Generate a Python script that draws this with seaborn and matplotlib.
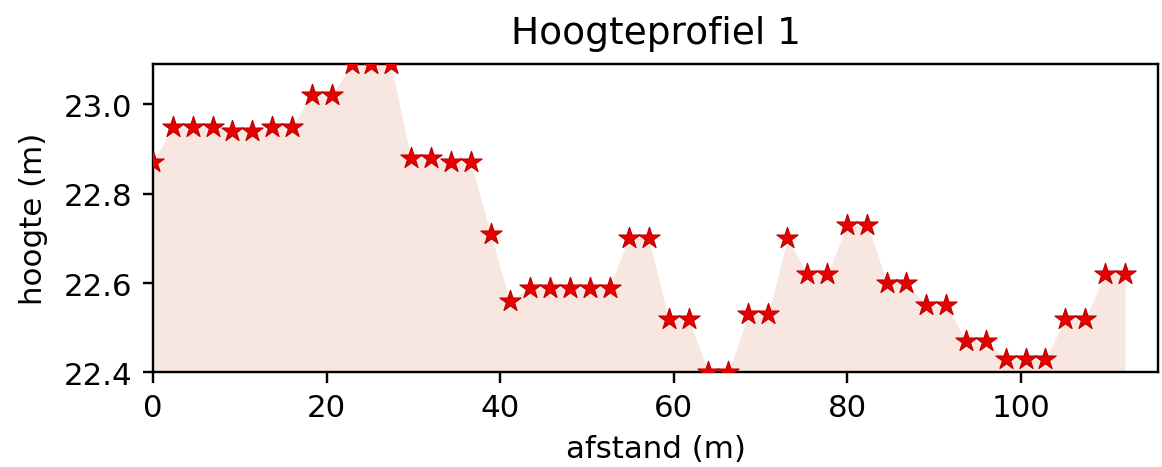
import numpy as np
import pandas as pd
import matplotlib
matplotlib.use("Agg")
import matplotlib.pyplot as plt
import seaborn as sns

# distance along the profile (m)
afstand = [0.0, 2.3, 4.6, 6.9, 9.1, 11.4, 13.7, 16.0, 18.3, 20.6,
           22.9, 25.1, 27.4, 29.7, 32.0, 34.3, 36.6, 38.9, 41.1, 43.4,
           45.7, 48.0, 50.3, 52.6, 54.8, 57.1, 59.4, 61.7, 64.0, 66.3,
           68.6, 70.9, 73.1, 75.4, 77.7, 80.0, 82.3, 84.6, 86.8, 89.1,
           91.4, 93.7, 96.0, 98.3, 100.6, 102.8, 105.1, 107.4, 109.7, 112.0]

# height (m)
hoogte = [22.87, 22.95, 22.95, 22.95, 22.94, 22.94, 22.95, 22.95, 23.02, 23.02,
          23.09, 23.09, 23.09, 22.88, 22.88, 22.87, 22.87, 22.71, 22.56, 22.59,
          22.59, 22.59, 22.59, 22.59, 22.70, 22.70, 22.52, 22.52, 22.40, 22.40,
          22.53, 22.53, 22.70, 22.62, 22.62, 22.73, 22.73, 22.60, 22.60, 22.55,
          22.55, 22.47, 22.47, 22.43, 22.43, 22.43, 22.52, 22.52, 22.62, 22.62]

df = pd.DataFrame({"afstand": afstand, "hoogte": hoogte})

sns.set_style("ticks")
plt.rcParams['font.family'] = ['DejaVu Sans']
plt.rcParams['text.color'] = 'black'
plt.rcParams['axes.labelcolor'] = 'black'
plt.rcParams['xtick.color'] = 'black'
plt.rcParams['ytick.color'] = 'black'

fig, ax = plt.subplots(figsize=(1162 / 216, 468 / 216), dpi=216)
fig.subplots_adjust(left=0.1317, right=0.9966, top=0.861, bottom=0.202)

ymin = min(hoogte)
ax.fill_between(df["afstand"], df["hoogte"], ymin, color="#f8e6e0", linewidth=0)
sns.scatterplot(data=df, x="afstand", y="hoogte", marker="*", s=55,
                color="#e60000", edgecolor="#c00000", linewidth=0.4, ax=ax, zorder=3)

ax.set_xlim(0, 115.8)
ax.set_ylim(ymin, max(hoogte))
ax.set_xticks([0, 20, 40, 60, 80, 100])
ax.set_yticks([22.4, 22.6, 22.8, 23.0])
ax.set_xlabel("afstand (m)", fontsize=10.3, labelpad=4)
ax.set_ylabel("hoogte (m)", fontsize=10.3, labelpad=5)
ax.set_title("Hoogteprofiel 1", fontsize=12.5, pad=7)
ax.tick_params(labelsize=10.3, length=3.5, width=0.8, color="black")
for s in ax.spines.values():
    s.set_color("black")
    s.set_linewidth(0.8)

plt.savefig("out.png", dpi=216)
